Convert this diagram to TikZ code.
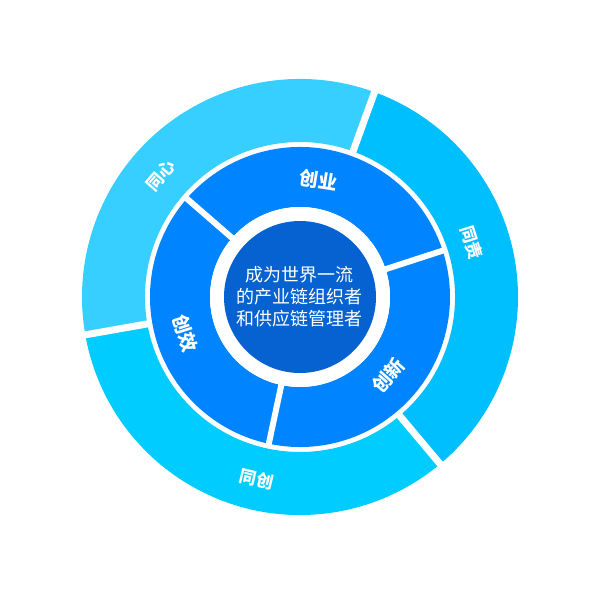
\documentclass[tikz,border=0pt]{standalone}
\usepackage{fontspec}
\newfontfamily\cjk{Noto Sans CJK SC}
\definecolor{cxin}{HTML}{36CFFF}
\definecolor{cze}{HTML}{00BFFF}
\definecolor{cchuang}{HTML}{00CCFF}
\definecolor{cinner}{HTML}{0084FF}
\definecolor{ccenter}{HTML}{0562D0}
\tikzset{
  olab/.style={text=white, font=\cjk\bfseries\fontsize{17}{17}\selectfont, inner sep=0pt},
  ilab/.style={text=white, font=\cjk\bfseries\fontsize{19}{19}\selectfont, inner sep=0pt},
  clab/.style={text=white, font=\cjk\fontsize{18}{22}\selectfont, align=center, inner sep=0pt},
  gapline/.style={white, line width=7pt},
  igapline/.style={white, line width=6pt}
}
\newcommand{\annsec}[5]{% color, a1, a2, R, r
  \fill[#1] (#2:#4) arc[start angle=#2, end angle=#3, radius=#4] -- (#3:#5) arc[start angle=#3, end angle=#2, radius=#5] -- cycle;}
\begin{document}
\begin{tikzpicture}[x=1pt,y=1pt]
\useasboundingbox (-300,-303) rectangle (300,297);
% outer ring
\annsec{cxin}{70}{190}{218}{155}
\annsec{cchuang}{190}{310}{218}{155}
\annsec{cze}{-50}{70}{218}{155}
% inner ring
\annsec{cinner}{18}{139}{150}{90}
\annsec{cinner}{139}{258}{150}{90}
\annsec{cinner}{258}{378}{150}{90}
% outer gaps
\coordinate (g1a) at (70:153); \coordinate (g1b) at (70:224);
\coordinate (g2a) at (190:153); \coordinate (g2b) at (190:224);
\coordinate (g3a) at (-50:153); \coordinate (g3b) at (-50:224);
\draw[gapline] (g1a) -- (g1b);
\draw[gapline] (g2a) -- (g2b);
\draw[gapline] (g3a) -- (g3b);
% inner gaps
\coordinate (h1a) at (18:85); \coordinate (h1b) at (18:152);
\coordinate (h2a) at (139:85); \coordinate (h2b) at (139:152);
\coordinate (h3a) at (258:85); \coordinate (h3b) at (258:152);
\draw[igapline] (h1a) -- (h1b);
\draw[igapline] (h2a) -- (h2b);
\draw[igapline] (h3a) -- (h3b);
% center
\fill[white] (0,0) circle[radius=90];
\fill[ccenter] (0,0) circle[radius=76];
\node[clab] (center) at (0,0) {成为世界一流\\的产业链组织者\\和供应链管理者};
% outer labels
\node[olab, rotate=49] (txin) at (139:185) {同心};
\node[olab, rotate=-72.4] (tze) at (17.6:180) {同责};
\node[olab, rotate=-13.4] (tchuang) at (-103.4:187) {同创};
% inner labels
\node[ilab, rotate=-9] (cye) at (81:118) {创业};
\node[ilab, rotate=-72.5] (cxiao) at (197.5:120) {创效};
\node[ilab, rotate=48.5] (cxinl) at (-41.5:118) {创新};
\end{tikzpicture}
\end{document}
